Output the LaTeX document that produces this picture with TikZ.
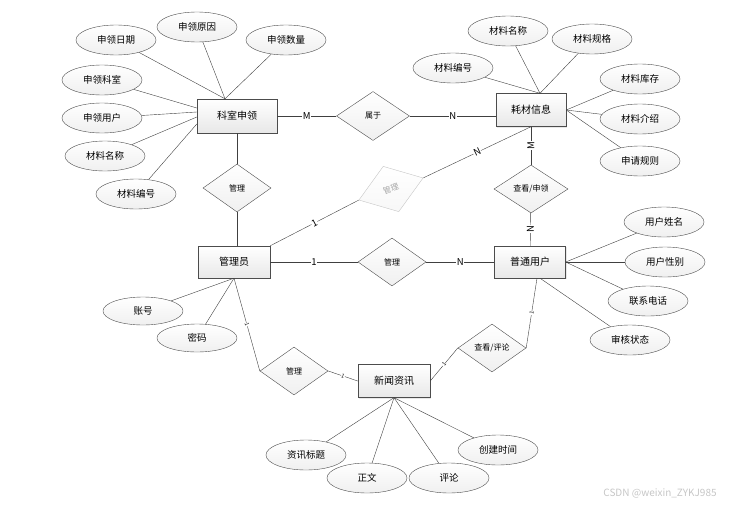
\documentclass[tikz,border=0pt]{standalone}
\usepackage{fontspec}
\setmainfont{Noto Sans CJK SC}
\usetikzlibrary{shapes.geometric, shadows, calc}

\begin{document}
\begin{tikzpicture}[
  x=1pt, y=-1pt,
  line/.style={draw=black!75, thin},
  entity/.style={draw=gray!60!black, rectangle, minimum width=72pt, minimum height=32pt, inner sep=1pt,
    top color=white, bottom color=gray!18, drop shadow={shadow xshift=1.2pt, shadow yshift=-1.2pt, fill=gray!35},
    font=\fontsize{10}{12}\selectfont},
  attr/.style={draw=gray!60!black, ellipse, minimum width=80pt, minimum height=30pt, inner sep=0pt,
    top color=white, bottom color=gray!12, font=\fontsize{9.5}{11}\selectfont},
  rel/.style={draw=gray!60!black, diamond, minimum width=68pt, minimum height=48pt, inner sep=0pt,
    top color=white, bottom color=gray!12, font=\fontsize{8}{9}\selectfont},
  card/.style={fill=white, inner sep=0.6pt, font=\fontsize{9.5}{10}\selectfont},
  tick/.style={fill=white, inner sep=0.3pt, sloped, font=\fontsize{5.5}{6}\selectfont}
]
\useasboundingbox (0,0) rectangle (747,506);

% Entities
\node[entity, minimum width=80pt, minimum height=34pt] (ks) at (237,116) {科室申领};
\node[entity, minimum width=70pt, minimum height=33pt] (hc) at (531,110) {耗材信息};
\node[entity] (gl) at (234,262) {管理员};
\node[entity, minimum width=71pt] (pt) at (530,262) {普通用户};
\node[entity, minimum height=33pt] (xw) at (394,381) {新闻资讯};

% Relationships
\node[rel, minimum width=73pt, minimum height=49pt] (sy) at (373,116) {属于};
\node[rel] (gl1) at (237,188) {管理};
\node[rel, rotate=19, draw=gray!45, text=gray!70, bottom color=gray!6] (gr) at (391,189) {管理};
\node[rel] (gl2) at (392,262) {管理};
\node[rel, minimum width=74pt] (ck) at (531,189) {查看/申领};
\node[rel] (gl3) at (294,371) {管理};
\node[rel] (cp) at (492,348) {查看/评论};

% Attributes of 科室申领
\node[attr] (a1) at (116,40) {申领日期};
\node[attr] (a2) at (197,27) {申领原因};
\node[attr] (a3) at (286,40) {申领数量};
\node[attr] (a4) at (102,80) {申领科室};
\node[attr] (a5) at (102,118) {申领用户};
\node[attr] (a6) at (105,156) {材料名称};
\node[attr] (a7) at (136,194) {材料编号};

% Attributes of 耗材信息
\node[attr] (b1) at (508,31) {材料名称};
\node[attr] (b2) at (592,39) {材料规格};
\node[attr] (b3) at (453,68) {材料编号};
\node[attr] (b4) at (640,79) {材料库存};
\node[attr] (b5) at (640,119) {材料介绍};
\node[attr] (b6) at (640,161) {申请规则};

% Attributes of 普通用户
\node[attr] (c1) at (664,222) {用户姓名};
\node[attr] (c2) at (665,262) {用户性别};
\node[attr] (c3) at (648,301) {联系电话};
\node[attr] (c4) at (630,340) {审核状态};

% Attributes of 管理员
\node[attr, minimum height=28pt] (d1) at (143,311) {账号};
\node[attr, minimum height=28pt] (d2) at (197,338) {密码};

% Attributes of 新闻资讯
\node[attr] (e1) at (306,455) {资讯标题};
\node[attr] (e2) at (367,478) {正文};
\node[attr] (e3) at (449,478) {评论};
\node[attr] (e4) at (498,450) {创建时间};

% attribute lines
\foreach \a in {a1,a2,a3} \draw[line] (\a) -- ([xshift=-12pt]ks.north);
\draw[line] (a4) -- ($(ks.west)+(0,-8)$);
\draw[line] (a5) -- ($(ks.west)+(0,-4)$);
\draw[line] (a6) -- ($(ks.west)+(0,1)$);
\draw[line] (a7) -- ($(ks.west)+(0,8)$);
\foreach \b in {b1,b2,b3} \draw[line] (\b) -- ([xshift=9pt]hc.north);
\foreach \b in {b4,b5,b6} \draw[line] (\b) -- (hc.east);
\foreach \c in {c1,c2,c3} \draw[line] (\c) -- (pt.east);
\draw[line] (c4) -- ([xshift=10pt]pt.south);
\foreach \d in {d1,d2} \draw[line] (\d) -- (gl.south);
\foreach \e in {e1,e2,e3,e4} \draw[line] (\e) -- (xw.south);

% relationship lines
\draw[line] (ks) -- node[card]{M} (sy);
\draw[line] (sy.east) -- node[card]{N} (sy.east -| hc.west);
\draw[line] (ks) -- (gl1);
\draw[line] (gl1.south) -- (gl1.south |- gl.north);
\draw[line] (gl.north east) -- node[card, sloped]{1} (gr.west);
\draw[line] (gr.east) -- node[card, sloped]{N} (hc.south);
\draw[line] (gl) -- node[card]{1} (gl2);
\draw[line] (gl2) -- node[card]{N} (pt);
\draw[line] (hc) -- node[card, rotate=90]{M} (ck);
\draw[line] (ck) -- node[card, rotate=90]{N} (pt);
\draw[line] (gl.south) -- node[tick]{1} (gl3.west);
\draw[line] (gl3.east) -- node[tick]{1} (xw.west);
\draw[line] (xw.east) -- node[tick]{1} (cp.west);
\draw[line] (cp.east) -- node[tick]{1} ([xshift=7pt]pt.south);

% watermark
\node[text=gray!45, font=\fontsize{10}{11}\selectfont] (mark) at (660,493) {CSDN @weixin\_ZYKJ985};

\end{tikzpicture}
\end{document}
